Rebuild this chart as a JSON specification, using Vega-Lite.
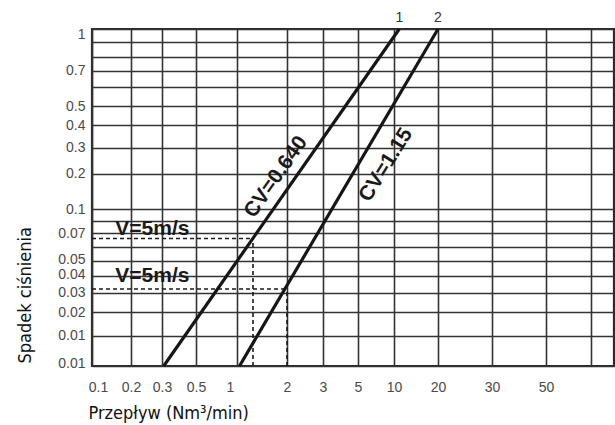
{
  "$schema": "https://vega.github.io/schema/vega-lite/v6.json",
  "autosize": {"type": "none"},
  "width": 522,
  "height": 337,
  "padding": {"left": 92, "top": 29, "right": 1, "bottom": 59},
  "background": "#ffffff",
  "config": {
    "view": {"stroke": "#2b2b2b", "strokeWidth": 2.2},
    "axis": {
      "domain": false,
      "ticks": false,
      "grid": true,
      "gridColor": "#333333",
      "gridWidth": 1.6,
      "gridOpacity": 1,
      "labelFont": "Liberation Sans, Arial, sans-serif",
      "labelFontSize": 14,
      "labelColor": "#4a4a4a",
      "labelOverlap": false,
      "labelFlush": false,
      "labelBound": false,
      "titleFont": "Liberation Sans Narrow, DejaVu Sans Condensed, sans-serif",
      "titleFontSize": 18,
      "titleFontWeight": "normal",
      "titleColor": "#111111"
    }
  },
  "encoding": {
    "x": {
      "field": "flow",
      "type": "quantitative",
      "scale": {
        "domain": [0.1, 0.2, 0.3, 0.5, 1, 2, 3, 5, 10, 20, 30, 50, 70, 100],
        "range": [0, 39, 70, 104, 145, 195, 231, 266, 302, 346, 400, 454, 499, 522],
        "nice": false,
        "zero": false
      },
      "axis": {
        "values": [0.1, 0.2, 0.3, 0.5, 1, 2, 3, 5, 10, 20, 30, 50, 70],
        "labelExpr": "datum.value >= 70 ? '' : format(datum.value, '~g')",
        "labelPadding": 14,
        "labelOffset": {"condition": [{"test": "datum.value == 0.1", "value": 6}, {"test": "datum.value == 1", "value": -7}], "value": 0},
        "title": "Przepływ (Nm³/min)",
        "titleAnchor": "start",
        "titleAlign": "left",
        "titleBaseline": "alphabetic",
        "titleX": -4,
        "titleY": 52
      }
    },
    "y": {
      "field": "dp",
      "type": "quantitative",
      "scale": {
        "domain": [0.005, 0.01, 0.02, 0.03, 0.04, 0.05, 0.06, 0.07, 0.08, 0.1, 0.2, 0.3, 0.4, 0.5, 0.6, 0.7, 0.8, 0.9, 1],
        "range": [337, 306.8, 283, 264.3, 247.3, 231.7, 217.7, 204, 192, 180.3, 144.7, 118.7, 96, 77, 57.7, 41.7, 27.7, 13.3, 0],
        "nice": false,
        "zero": false
      },
      "axis": {
        "values": [0.005, 0.01, 0.02, 0.03, 0.04, 0.05, 0.06, 0.07, 0.08, 0.1, 0.2, 0.3, 0.4, 0.5, 0.6, 0.7, 0.8, 0.9, 1],
        "labelExpr": "datum.value == 0.005 ? '0.01' : (datum.value == 0.06 || datum.value == 0.08 || datum.value == 0.6 || datum.value == 0.8 || datum.value == 0.9) ? '' : format(datum.value, '~g')",
        "labelPadding": 7,
        "labelOffset": {"condition": [{"test": "datum.value == 1", "value": 5}, {"test": "datum.value == 0.04", "value": -2}, {"test": "datum.value == 0.05", "value": -1.5}, {"test": "datum.value == 0.03", "value": -1}, {"test": "datum.value == 0.005", "value": -3}], "value": 0},
        "title": "Spadek ciśnienia",
        "titleAngle": -90,
        "titleAlign": "left",
        "titleBaseline": "alphabetic",
        "titleX": -62,
        "titleY": 334
      }
    }
  },
  "layer": [
    {
      "data": {"values": [
        {"flow": 0.1, "flow2": 1.32, "dp": 0.066, "dp2": 0.066},
        {"flow": 1.32, "flow2": 1.32, "dp": 0.005, "dp2": 0.066},
        {"flow": 0.1, "flow2": 2.0, "dp": 0.0325, "dp2": 0.0325},
        {"flow": 2.0, "flow2": 2.0, "dp": 0.005, "dp2": 0.0325}
      ]},
      "mark": {"type": "rule", "color": "#1a1a1a", "strokeWidth": 1.6, "strokeDash": [4, 3]},
      "encoding": {
        "x2": {"field": "flow2"},
        "y2": {"field": "dp2"}
      }
    },
    {
      "data": {"values": [
        {"series": "1", "flow": 0.31, "dp": 0.005},
        {"series": "1", "flow": 11.2, "dp": 1},
        {"series": "2", "flow": 1.05, "dp": 0.005},
        {"series": "2", "flow": 20, "dp": 1}
      ]},
      "mark": {"type": "line", "color": "#161616", "strokeWidth": 3.2, "strokeCap": "butt"},
      "encoding": {"detail": {"field": "series"}}
    },
    {
      "data": {"values": [
        {"label": "1", "flow": 11.2, "dp": 1},
        {"label": "2", "flow": 20, "dp": 1}
      ]},
      "mark": {"type": "text", "font": "Liberation Sans, Arial, sans-serif", "fontSize": 14, "color": "#333333", "baseline": "alphabetic", "dy": -7, "align": "center"},
      "encoding": {"text": {"field": "label"}}
    },
    {
      "data": {"values": [
        {"label": "V=5m/s", "flow": 0.269, "dp": 0.0735},
        {"label": "V=5m/s", "flow": 0.269, "dp": 0.0402}
      ]},
      "mark": {"type": "text", "font": "Liberation Sans, Arial, sans-serif", "fontSize": 21, "fontWeight": "bold", "color": "#1a1a1a", "baseline": "middle", "align": "center"},
      "encoding": {"text": {"field": "label"}}
    },
    {
      "data": {"values": [
        {"label": "CV=0.640", "flow": 1.78, "dp": 0.1907}
      ]},
      "mark": {"type": "text", "font": "Liberation Sans, Arial, sans-serif", "fontSize": 21, "fontWeight": "bold", "color": "#1a1a1a", "baseline": "middle", "align": "center", "angle": -55},
      "encoding": {"text": {"field": "label"}}
    },
    {
      "data": {"values": [
        {"label": "CV=1.15", "flow": 8.89, "dp": 0.2335}
      ]},
      "mark": {"type": "text", "font": "Liberation Sans, Arial, sans-serif", "fontSize": 21, "fontWeight": "bold", "color": "#1a1a1a", "baseline": "middle", "align": "center", "angle": -58},
      "encoding": {"text": {"field": "label"}}
    }
  ]
}
